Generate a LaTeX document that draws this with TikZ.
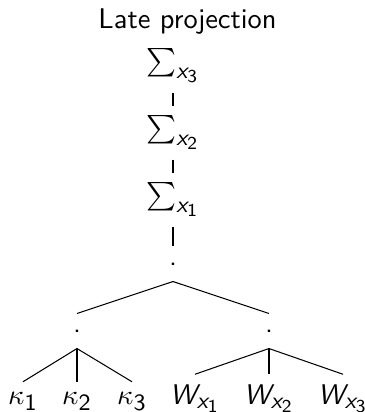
\documentclass[tikz,border=0pt,11pt]{standalone}
\usepackage{amsmath}
\usepackage{tikz}
\usetikzlibrary{positioning}
\DeclareMathSizes{10.95}{10.95}{9}{7}
\newcommand{\sfv}[1]{\text{\normalfont\sffamily\itshape #1}}
\newcommand{\sfd}[1]{\text{\normalfont\sffamily #1}}

\begin{document}
\begin{tikzpicture}[x=0.385pt,y=-0.385pt,font=\sffamily,
    lbl/.style={anchor=base},
    dotnode/.style={inner sep=0pt,minimum height=13.1pt}]
        \useasboundingbox (0,0) rectangle (365,412);
        \node[lbl] (title) at (187.5,28) {Late projection};
        \node[lbl] (sumc) at (173,70) {$\sum_{\sfv{x}_{\sfd{3}}}$};
        \node[lbl] (sumb) at (173,137) {$\sum_{\sfv{x}_{\sfd{2}}}$};
        \node[lbl] (suma) at (173,204) {$\sum_{\sfv{x}_{\sfd{1}}}$};
        \node[dotnode] (prod) at (173,264) {.};
        \node[dotnode] (kap) at (77,331) {.};
        \node[dotnode] (wts) at (269,331) {.};
        \node[lbl] (k1) at (23,404) {$\kappa_{\sfd{1}}$};
        \node[lbl] (k2) at (77,404) {$\kappa_{\sfd{2}}$};
        \node[lbl] (k3) at (132,404) {$\kappa_{\sfd{3}}$};
        \node[lbl] (w1) at (195,404) {$\sfv{W}_{\sfv{x}_{\sfd{1}}}$};
        \node[lbl] (w2) at (269,404) {$\sfv{W}_{\sfv{x}_{\sfd{2}}}$};
        \node[lbl] (w3) at (343,404) {$\sfv{W}_{\sfv{x}_{\sfd{3}}}$};
        \draw (sumc) -- (sumb);
        \draw (sumb) -- (suma);
        \draw (suma) -- (prod);
        \draw (prod.south) -- (kap.north);
        \draw (prod.south) -- (wts.north);
        \draw (kap.south) -- (k1.north);
        \draw (kap.south) -- (k2.north);
        \draw (kap.south) -- (k3.north);
        \draw (wts.south) -- (w1.north);
        \draw (wts.south) -- (w2.north);
        \draw (wts.south) -- (w3.north);
      \end{tikzpicture}
\end{document}
